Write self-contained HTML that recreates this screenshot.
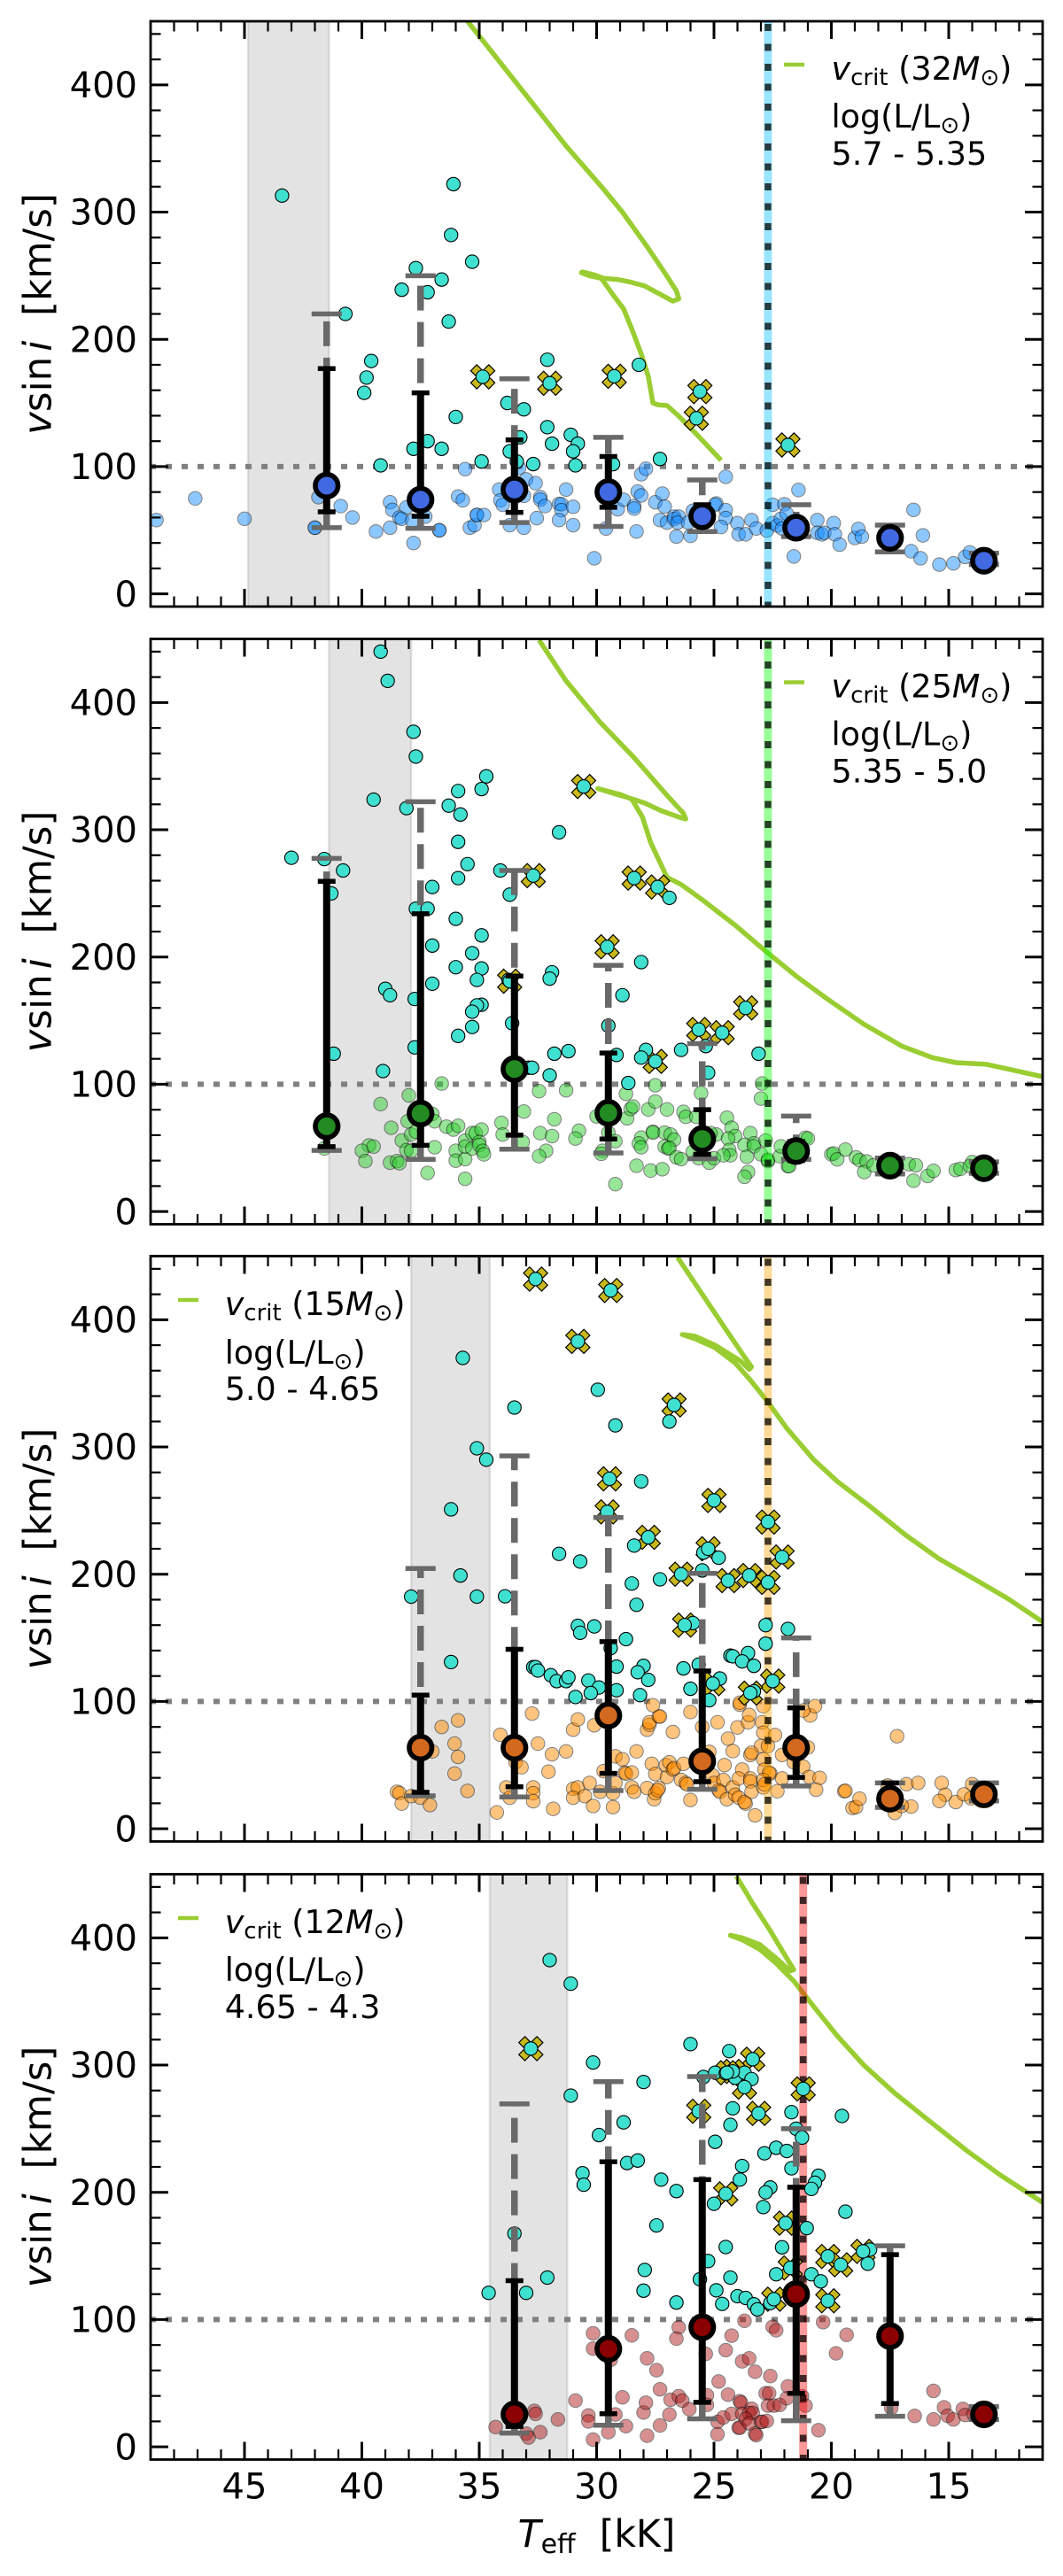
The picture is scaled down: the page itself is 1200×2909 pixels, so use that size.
<!DOCTYPE html>
<html lang="en">
<head>
<meta charset="utf-8">
<title>Projected rotational velocity versus effective temperature</title>
<style>
html,body{margin:0;padding:0;background:#fff;width:1200px;height:2909px;overflow:hidden}
svg{display:block}
text{font-family:"DejaVu Sans",sans-serif;fill:#000}
</style>
</head>
<body>
<svg id="fig" xmlns="http://www.w3.org/2000/svg" width="1200" height="2909" viewBox="0 0 1200 2909">
<rect x="0" y="0" width="1200" height="2909" fill="#fff"/>
<defs id="defs"></defs>
<g id="plots"></g>

<text transform="translate(57.5,354.5) rotate(-90)" text-anchor="middle" font-size="43.5"><tspan font-style="italic">v</tspan>sin<tspan font-style="italic" dx="6">i</tspan><tspan xml:space="preserve">  [km/s]</tspan></text>
<text transform="translate(57.5,1052) rotate(-90)" text-anchor="middle" font-size="43.5"><tspan font-style="italic">v</tspan>sin<tspan font-style="italic" dx="6">i</tspan><tspan xml:space="preserve">  [km/s]</tspan></text>
<text transform="translate(57.5,1749) rotate(-90)" text-anchor="middle" font-size="43.5"><tspan font-style="italic">v</tspan>sin<tspan font-style="italic" dx="6">i</tspan><tspan xml:space="preserve">  [km/s]</tspan></text>
<text transform="translate(57.5,2447) rotate(-90)" text-anchor="middle" font-size="43.5"><tspan font-style="italic">v</tspan>sin<tspan font-style="italic" dx="6">i</tspan><tspan xml:space="preserve">  [km/s]</tspan></text>

<text x="673.5" y="2876" text-anchor="middle" font-size="42.5" xml:space="preserve"><tspan font-style="italic">T</tspan><tspan font-size="30" dy="7">eff</tspan><tspan dy="-7">  [kK]</tspan></text>

<g>
<line x1="885" x2="908" y1="73" y2="73" stroke="#9acd32" stroke-width="4.5"/>
<text x="938.5" y="90" font-size="36.5" xml:space="preserve"><tspan font-style="italic">v</tspan><tspan font-size="26" dy="6">crit</tspan><tspan dy="-6"> (32</tspan><tspan font-style="italic">M</tspan><tspan font-size="26" dy="6">⊙</tspan><tspan dy="-6">)</tspan></text>
<text x="938.5" y="144" font-size="36.5">log(L/L<tspan font-size="26" dy="6">⊙</tspan><tspan dy="-6">)</tspan></text>
<text x="938.5" y="186" font-size="36.5">5.7 - 5.35</text>
</g>
<g>
<line x1="885" x2="908" y1="770.5" y2="770.5" stroke="#9acd32" stroke-width="4.5"/>
<text x="938.5" y="787.5" font-size="36.5" xml:space="preserve"><tspan font-style="italic">v</tspan><tspan font-size="26" dy="6">crit</tspan><tspan dy="-6"> (25</tspan><tspan font-style="italic">M</tspan><tspan font-size="26" dy="6">⊙</tspan><tspan dy="-6">)</tspan></text>
<text x="938.5" y="841.5" font-size="36.5">log(L/L<tspan font-size="26" dy="6">⊙</tspan><tspan dy="-6">)</tspan></text>
<text x="938.5" y="883.5" font-size="36.5">5.35 - 5.0</text>
</g>
<g>
<line x1="201" x2="224" y1="1468" y2="1468" stroke="#9acd32" stroke-width="4.5"/>
<text x="253.7" y="1485" font-size="36.5" xml:space="preserve"><tspan font-style="italic">v</tspan><tspan font-size="26" dy="6">crit</tspan><tspan dy="-6"> (15</tspan><tspan font-style="italic">M</tspan><tspan font-size="26" dy="6">⊙</tspan><tspan dy="-6">)</tspan></text>
<text x="253.7" y="1540" font-size="36.5">log(L/L<tspan font-size="26" dy="6">⊙</tspan><tspan dy="-6">)</tspan></text>
<text x="253.7" y="1581" font-size="36.5">5.0 - 4.65</text>
</g>
<g>
<line x1="201" x2="224" y1="2166" y2="2166" stroke="#9acd32" stroke-width="4.5"/>
<text x="253.7" y="2183" font-size="36.5" xml:space="preserve"><tspan font-style="italic">v</tspan><tspan font-size="26" dy="6">crit</tspan><tspan dy="-6"> (12</tspan><tspan font-style="italic">M</tspan><tspan font-size="26" dy="6">⊙</tspan><tspan dy="-6">)</tspan></text>
<text x="253.7" y="2237" font-size="36.5">log(L/L<tspan font-size="26" dy="6">⊙</tspan><tspan dy="-6">)</tspan></text>
<text x="253.7" y="2279" font-size="36.5">4.65 - 4.3</text>
</g>
</svg>
<script>
// ---------- tick labels ----------
const xTickLabels=[45,40,35,30,25,20,15];
const yTickLabels=[0,100,200,300,400];
const refLevel=[100,100,100,100];
const shadeHot=[44.85,41.4,37.9,34.55];
const shadeCool=[41.4,37.9,34.55,31.25];
const bandTeff=[22.7,22.7,22.7,21.2];

// ---------- panel 1 ----------
const p1FieldT=[35.6,35.9,35.7,36.7,35.4,35.2,35.1,35.1,34.8,34.15,34.1,34,33.7,33.1,33,33.3,33.1,32.6,32.4,32.4,32.2,32.55,31.6,31.5,31.5,31.6,31.3,31,31,30.1,29.6,29.1,28.85,28.4,28.4,28.3,28.25,28.1,28.1,27.9,27.5,27.2,27.1,27.3,27,26.7,26.7,26.5,26.55,26.6,26,26.1,25.9,24.9,24.95,24.5,24.5,24.7,24.5,24,23.95,23.65,23.4,23.2,22.75,22.5,22.5,22.3,22,22.15,21.9,22.1,21.4,21.6,20.6,20.6,20.4,20.3,19.9,19.85,19.65,19,18.85,18.7,48.75,47.1,45,41.85,42,42,40.9,40.4,39.4,38.8,38.7,38.8,38.4,38.3,38.1,37.85,37.8,37.3,36.7,16.5,16.1,16.6,16.2,15.4,14.8,14.3,14.1];
const p1FieldV=[98,76.5,73.5,50,52,54,62,62,62,82,73.5,70,54,52,90,99,77,87,76,74,69,59.5,70.7,70.4,65.8,58,82,68.4,54,28,51.4,66.5,74,69,67,49,80.4,77.4,94,98.3,72,78.8,68.6,58,56,60.7,58.8,60.7,56,45,45.6,56,65.3,71,70,65.8,59.5,52.6,92,55.6,46.8,46.8,58,51.4,49.8,70,55.6,53.7,70.4,59,63,51.4,81.6,29.4,58,48,46.8,48,55.6,46.8,38.7,44,51,45,58,75,59,76,52,52,69,60,49,72,66,52,60,59,68,57.5,40,60.7,50,66,46,33.5,28,23,24,29,32.6];
const p1CyanT=[43.4,40.7,39.6,39.8,39.9,39.2,37.7,38.3,37.2,36.6,36.1,36.2,35.3,36.3,36,37.2,37.8,36.6,34.9,33.8,33.1,33.25,33.7,33.4,32.7,32.1,32.1,31.9,31.1,30.8,31,30.9,29.3,28.2,27.3];
const p1CyanV=[313,220,183,170,158,101,256,239,237,247,322,282,261,214,139,120,114,114,104,150,145,123,112,104,102,184,131,118,125,118,112,101,102,180,106];
const p1BinaryT=[34.85,32,29.25,25.6,25.75,21.85];
const p1BinaryV=[170.6,165.5,171,159,138,117];
const p1BinT=[41.5,37.5,33.5,29.5,25.5,21.5,17.5,13.5];
const p1Median=[85,74,82,80,61,52,44,26];
const p1InnerHi=[177,158,121,108,70,58,48,29];
const p1InnerLo=[64.5,61,64,68,56,47,38,24];
const p1OuterHi=[220,250,169,123,89.5,70,54,32];
const p1OuterLo=[52,51.5,56,53,49,45,33,23];
const p1CritT=[35.5,32.75,31.3,30.5,29.7,28.9,27.8,27.05,26.6,26.5,26.75,27.25,27.95,28.55,29.1,29.7,30.15,30.6,30.65,30.3,29.8,29.3,28.85,28.5,28.1,27.8,27.6,27.4,27,26.55,25.7,24.7];
const p1CritV=[450,386,352,335,318,300,271.6,251,238,232,230,235,242,245,247,248,251,253,252.4,250,248,235,224,208,188.5,171,150,148.6,148,140.6,124.6,105];

// ---------- panel 2 ----------
const p2FieldT=[39.7,40,39.5,39.85,38.8,38.5,38.4,39.2,38,38.75,38.3,38.05,38.1,37.9,37.9,37.7,37,36.9,36.6,37.2,36.9,36.4,36.1,35.9,36,36,35.6,35.6,35.6,35.6,35.3,35.15,34.9,35.3,35,35,34.85,34.8,34.05,34,33.15,33.1,32.45,31.3,32.4,31.9,31.8,32.15,32.45,30.75,30.9,30,29.5,29.2,29.75,29.8,29.2,28.75,28.7,28.55,28.45,27.8,27.5,27.5,27,28.1,28.2,28.1,27.6,27.6,27.1,26.85,26.7,27.1,26.95,26.9,26.6,26.4,28.3,27.7,27.2,26.3,26.2,25.55,25.75,25.9,25.65,25.2,25,24.9,25.15,24.45,24.25,24.1,24.4,24.35,24.3,24.6,23.45,23.7,23.3,23.3,22.8,23.6,23,22.7,22.7,23.55,23.7,22.95,23,22.2,22.15,21.1,21.85,41.6,21,21.8,20,19.9,19.75,19.4,18.95,18.8,18.5,18.6,18.2,16.7,16.4,16.5,15.9,15.65,14.7,14.5,14,14.1,17.7];
const p2FieldV=[51.9,47.7,51,39.6,38.4,39.6,38,84.4,91.3,65.8,55.8,70.9,48.2,47.7,60.5,62.8,76.7,70.9,100.6,30.3,50.5,66.7,64.4,67.4,47.7,40,41.2,25.7,55.8,51,61.6,61.6,64.4,49.5,54.7,52.3,47.7,44.9,69.7,60.5,54.7,78.6,94.6,95.3,61.6,59.3,72.5,47.7,43.5,63.5,57.4,74.8,62,55.3,47.7,45.4,21.5,92.5,73.2,80.6,82.5,80.2,86.4,99.2,80.2,58.1,53.5,50.5,62.8,62,62,60.5,56.5,51,49.5,50,42.6,41.2,36,32.2,33.3,78.3,74.4,93,74.4,47,41.9,38.4,41.9,60.5,61.6,73.7,65.8,59.3,57.4,48.4,44.2,44.2,61.6,52.3,53.5,51.2,55.8,43,44.9,39.6,40.7,31,27.3,100.6,88.8,43.5,51.2,58,35.6,49.6,57.4,35.7,45,45.6,41,48.7,42.5,40.3,39.4,31,36.3,37.2,36.3,24.2,28,32,32.6,33.5,38.8,35.7,37];
const p2CyanT=[39.2,38.9,37.8,37.7,39.5,38.1,43,41.6,40.8,41.3,41.2,39.1,39,38.8,37,37.7,37.2,37,37,37.75,37.75,36.3,35.9,35.8,34.9,34.7,35.9,35.5,35.9,36,34.9,35.3,36,34.9,35.1,34.9,35.1,35.3,35.3,35.9,34.1,33.7,33.75,33.6,32.9,31.6,26.9,28.1,31.9,32,28.9,29.5,25.35,26.4,27.9,28.1,29.15,31.2,31.8,32,32.75,28.65,25.25,23.1];
const p2CyanV=[440,417,377,357.5,323.7,317,278,277,268,250,124,110.4,175,170,255,238,238,209,179,167,129,319,330.5,312,332,342,290.5,273,262,230,217,203,192,191,182,162.5,162,157,145,138,268,249,182,148,113,298,246.5,196,188,183,170,146,130,127,127,121,123,126,124,107,113,101,109,124];
const p2BinaryT=[32.7,33.7,30.55,28.4,27.4,29.55,25.65,24.65,23.65,27.5];
const p2BinaryV=[264,181,334,262,255,208,143,140.5,160,118];
const p2BinT=[41.5,37.5,33.5,29.5,25.5,21.5,17.5,13.5];
const p2Median=[67,77,112,77.5,57,47.5,36,34];
const p2InnerHi=[259.5,234,185,124.6,80,55,40,38];
const p2InnerLo=[51,52,60,57,45,40,32,31];
const p2OuterHi=[277.5,322,268,193.5,132,75,42,39];
const p2OuterLo=[48,41,49,46,41.5,41,29.5,30];
const p2CritT=[32.45,31.3,29.85,28.4,27,26.3,26.2,26.5,27.25,27.95,28.7,29.3,29.95,29,28.5,28.05,27.7,27.3,27,26.4,25.5,24.1,22.8,21.5,20.2,18.6,17,15.7,14.7,13.4,12.25,11];
const p2CritV=[449,417,384.5,356.6,327,313,308.5,310,315,321,325.6,328.7,332.4,327.8,324,310,290,274.4,262.6,257,245,225,204.6,185,167.4,147,130,121,117,115.7,111,106];

// ---------- panel 3 ----------
const p3FieldT=[38.5,38.4,38.3,37.9,37.5,37.1,37,36.6,35.9,36.05,35.9,36.05,35.5,34.25,34.1,33.85,33.7,33.45,33.2,32.7,32.7,32.7,32.5,32.75,31.9,32.05,31.3,31.85,31,30.8,31,30.5,30.3,30.15,31,30.8,30.1,29.85,29.7,29.3,29.2,29.3,29.2,28.9,28.8,28.75,28.5,28.5,28.4,28.3,27.85,27.85,27.75,27.75,27.35,27.3,27.6,26.75,27.65,27.5,27.55,27.5,27.35,27.4,27,27.05,26.9,26.75,26.7,26.3,26.4,26.2,26.15,26,26,25.5,24.85,24.4,24.2,24,23.9,23.9,23.55,23.5,22.9,22.95,22.9,22.4,23,22.7,23.45,23.4,22.9,22.85,22.6,22.65,24.55,23.8,25.2,25.05,25,24.6,24.8,24.75,24.45,24.2,24.1,23.95,23.95,23.65,23.7,23.45,23.45,23.4,23.25,22.9,22.9,22.85,22.3,22.1,22.1,21.6,21.2,20.95,20.5,20.65,21,20.9,20.7,21.2,19.45,19.1,18.95,18.8,17.2,16.8,16.3,16.6,17.3,17.6,17,15.3,15.15,15.4,14.7,14.35,14,14.05,19.4];
const p3FieldV=[29,28,19.8,25.6,24.4,18.6,60.8,80,85.2,66.9,56.4,43.4,29.7,12.8,73.8,32.5,24.4,52.3,48.3,32.5,27.9,21.6,66.9,90.5,58.5,44.8,60.8,15.6,31.4,32.5,24.4,25.6,36,17.9,77.8,85.9,81.3,29,45.3,27.9,36,17,56.9,54.6,44.1,43.4,44.1,32.5,29,60.8,32,77.8,81.7,83.6,88.2,88.2,97,76,51,43,23.2,27.9,32,30.2,40.7,50,52.2,46.5,47.6,51,38.3,36,34.8,22.6,91.7,80,83.6,70.8,61,79.6,97.5,99,83.6,89.4,96.3,83.6,75.5,73.6,65,65,58,59.7,54.6,46.5,43.4,44,50,46.5,60.4,41.8,36,38.3,30.2,29,23.2,32.5,26.7,39.5,24.4,19.8,21,39.5,37.2,29,10.5,32.5,38.3,34.8,29.5,58,39.5,52.3,48.8,40.7,40,30.7,63.9,89,96.3,92.9,29.5,16.3,17,23.6,72.7,35,36,17.4,12.4,34,18,36,26.7,21.8,21,27,35,24,29.8];
const p3CyanT=[35.7,33.5,35.1,34.7,36.2,35.8,37.9,35.1,33.9,36.2,32.7,29.95,29.2,26.9,28.1,28.4,31.6,30.7,25.45,24.8,25.5,28.5,27.3,28.3,25.9,30.8,30.7,30.1,28.75,22.8,21.85,22.8,29.4,24.3,24.2,23.55,23.8,23.3,32.6,32.5,31.95,31.7,31.3,31.2,30.35,29.9,30.25,30.9,29.15,29.15,28,28.25,27.8,28.15,26.3,25.65,26,24.75,25.2,23.3];
const p3CyanV=[370,331,299,290,251,199,182.4,182.4,182.7,131,127,345,317,320,273,222.5,216,210,217,213,203,192.7,196,176,161.6,159.4,154,159,149,160,157,145.4,142,136,135.5,138,131.5,128,127,124.3,120.6,116,116,119,116.5,111,106.6,103.5,127.4,108.8,128,123,117,105,126,129,110,118,101,108];
const p3BinaryT=[32.6,29.4,30.8,26.7,29.45,29.55,25,27.8,22.7,22.1,25.25,26.4,24.4,23.5,22.7,26.25,25.05,22.5,23.45];
const p3BinaryV=[432,423,383,333,275,249,258,229,241,213.5,220,200,195,199,193.6,160,114,116,106.6];
const p3BinT=[37.5,33.5,29.5,25.5,21.5,17.5,13.5];
const p3Median=[63.7,63.7,89,53,63.7,23.6,27];
const p3InnerHi=[105,141,147,124,95,36,33.6];
const p3InnerLo=[28.6,33,43.5,37,40.4,21,22.7];
const p3OuterHi=[204.5,293,244.6,200.7,150,36,36];
const p3OuterLo=[25.8,25,30,31,33.6,16.8,21.8];
const p3CritT=[26.55,25.5,24.5,23.7,23.4,23.5,23.9,24.95,25.8,26.35,25.8,24.95,24.1,23.5,22.75,21.9,20.75,19.75,18.3,16.85,15.4,13.95,12.5,11];
const p3CritV=[449,420,392.5,370.7,363,361,368,380,387,388.4,385,378,366,353.6,336.5,314.8,290,273,252.6,231,212,196.7,181,162.5];

// ---------- panel 4 ----------
const p4FieldT=[34.3,33,32.9,32.4,32.65,32.6,31.65,30.9,30.35,30.35,30.15,30.15,30.15,29.5,29.4,29.2,28.75,28.9,28.5,27.85,27.45,28,27.9,27.3,26.9,27.3,27.85,26.85,26.5,26.35,26.5,26.6,26.05,25.35,25.3,25.3,24.85,24.85,24.6,24.8,24.5,24.25,24.4,24.25,23.95,23.9,23.9,23.85,23.8,23.5,23.25,23.7,23.8,23.4,23.5,23.35,23.65,23.5,23.25,23.2,23,22.95,22.75,22.8,22.65,22.7,22.45,22.2,21.9,21.85,22.6,22.5,22.35,21.25,21.1,20.55,20.35,19.8,19.35,17.45,16.45,15.65,15.65,15.2,15.05,14.8,14.4,14.3,13.95];
const p4FieldV=[15.5,10.4,7.3,11.5,28.2,25.9,21.5,36.3,24.7,20,5.7,89.2,77.2,11.5,68.4,25.4,16.2,38.9,87.6,69.5,60.2,27,34.7,45.2,25.4,16.8,8.7,37,39.8,36.3,93.9,85,29.6,73,40.5,33,19.6,9.9,23.1,51.4,76,87.4,41,25.9,15,15,35.9,34.7,67.2,69.5,59,99,25.9,30,26.6,26.6,22,18.5,10.4,9.2,19.6,19.6,20.3,42.1,42.1,32.4,32.4,32.9,38.2,47.5,55.6,94.3,91.6,39.8,32.4,13.1,98,73.5,88,30.5,24.3,44,21.5,31,24.4,21.5,29.8,25,25.8];
const p4CyanT=[34.6,33.5,33,32,31.1,30.15,31.1,29.9,28.85,28,30.6,30.55,28.7,28.25,27.25,26.6,27.45,32.1,27.95,28,26.6,26,25.45,24.95,24.35,24.5,24.2,24.1,23.7,23.4,24.2,24.3,24.95,23.8,23.9,25,22.85,22.35,21.9,22.6,22.8,22.9,21.7,21.5,21.25,21.7,19.55,20.55,20.7,20.85,21.05,19.4,22.1,24.5,25.25,25.6,24.3,24.9,24.65,24,23.65,23.3,23.15,22.6,22.35,20.85,20.45,18.35,18.45];
const p4CyanV=[121,167.6,121,382.5,364,302,276,245,255,286.7,215,206,223,225,210,201,174,133,139,122.7,113.4,316.5,290.6,294,311,293.5,294,290,294,289,266,253,239.7,220.7,210,191,230.7,235,232.5,203.8,200,188.4,218.9,250,243,263,260,213,207.5,202.7,171.9,184.8,156.8,157,146,131.7,133,123,112.3,118.4,117,112,108,113,135.6,135.6,130,155,143.9];
const p4BinaryT=[32.8,23.35,24.2,24.45,23.7,23.1,25.65,24.5,21.2,21.95,22.45,21.75,20.15,19.6,20.15,18.65];
const p4BinaryV=[313,304.6,295,294,282.7,262,263.7,198.8,281.3,175.8,116,140.6,149.6,143,114.8,153.6];
const p4BinT=[33.5,29.5,25.5,21.5,17.5,13.5];
const p4Median=[25.5,77,94,120,87,25.5];
const p4InnerHi=[130.6,224,210,204,151,31];
const p4InnerLo=[16,26,35,42,34,20];
const p4OuterHi=[269.5,287,291,250,158,31.6];
const p4OuterLo=[10.8,17,22,20.5,24,21.5];
const p4CritT=[24.05,23.35,22.6,21.9,21.6,21.75,22.35,23.05,23.8,24.3,23.8,23.05,22.35,21.6,20.75,19.75,18.6,17.3,15.85,14.25,12.8,11];
const p4CritV=[448.5,427,405.5,384,375,374,384,394.7,400,402,398.5,391,380,366,346,323,299.6,278,256.5,233,213.5,192];

// ---------- axis functions ----------
const plotLeft=170,plotRight=1177,plotHeight=661;
const panelTops=[24,721.5,1418.5,2116.5];
const xMax=49,xMin=11,yMin=-10,yMax=450;
function xScale(t){return plotLeft+(xMax-t)*(plotRight-plotLeft)/(xMax-xMin);}
function yScale(panel,v){return panelTops[panel]+(yMax-v)*plotHeight/(yMax-yMin);}

const NS='http://www.w3.org/2000/svg';
function mk(tag,geom,parent){
  const e=document.createElementNS(NS,tag);
  for(const k in geom){e.setAttribute(k,geom[k]);}
  parent.appendChild(e);
  return e;
}

const fieldSets=[[p1FieldT,p1FieldV],[p2FieldT,p2FieldV],[p3FieldT,p3FieldV],[p4FieldT,p4FieldV]];
const cyanSets=[[p1CyanT,p1CyanV],[p2CyanT,p2CyanV],[p3CyanT,p3CyanV],[p4CyanT,p4CyanV]];
const binarySets=[[p1BinaryT,p1BinaryV],[p2BinaryT,p2BinaryV],[p3BinaryT,p3BinaryV],[p4BinaryT,p4BinaryV]];
const binSets=[
 [p1BinT,p1Median,p1InnerHi,p1InnerLo,p1OuterHi,p1OuterLo],
 [p2BinT,p2Median,p2InnerHi,p2InnerLo,p2OuterHi,p2OuterLo],
 [p3BinT,p3Median,p3InnerHi,p3InnerLo,p3OuterHi,p3OuterLo],
 [p4BinT,p4Median,p4InnerHi,p4InnerLo,p4OuterHi,p4OuterLo]];
const critSets=[[p1CritT,p1CritV],[p2CritT,p2CritV],[p3CritT,p3CritV],[p4CritT,p4CritV]];
const fieldColors=['#1e90ff','#32cd32','#ff8c00','#b22222'];
const medianColors=['#4169e1','#228b22','#d2691e','#8b0000'];
const bandColors=['#00bfff','#00ff00','#ffa500','#ff0000'];

const root=document.getElementById('plots');
const defs=document.getElementById('defs');

for(let p=0;p<4;p++){
  const top=panelTops[p],bottom=top+plotHeight;

  const clip=mk('clipPath',{id:'clip'+p},defs);
  mk('rect',{x:plotLeft,y:top,width:plotRight-plotLeft,height:plotHeight},clip);

  const panel=mk('g',{},root);
  
  

  const area=mk('g',{'clip-path':'url(#clip'+p+')'},panel);
  
  

  // grey shaded temperature band
  const sx1=xScale(shadeHot[p]),sx2=xScale(shadeCool[p]);
  const shade=mk('rect',{x:sx1,y:top,width:sx2-sx1,height:plotHeight,fill:'#808080','fill-opacity':0.22,stroke:'#808080','stroke-opacity':0.22,'stroke-width':2.5},area);
  
  

  // reference line
  const ry=yScale(p,refLevel[p]);
  const ref=mk('line',{x1:plotLeft-1,x2:plotRight,y1:ry,y2:ry,stroke:'#808080','stroke-width':6,'stroke-dasharray':'7 11'},area);
  
  

  // critical velocity track
  const cT=critSets[p][0],cV=critSets[p][1];
  let pts='';
  for(let i=0;i<cT.length;i++){pts+=xScale(cT[i]).toFixed(1)+','+yScale(p,cV[i]).toFixed(1)+' ';}
  const crit=mk('polyline',{points:pts,fill:'none',stroke:'#9acd32','stroke-width':5.5,'stroke-linejoin':'round','stroke-linecap':'butt'},area);
  
  

  // field stars
  const fT=fieldSets[p][0],fV=fieldSets[p][1];
  for(let i=0;i<fT.length;i++){
    const c=mk('circle',{cx:xScale(fT[i]),cy:yScale(p,fV[i]),r:7.7,fill:fieldColors[p],stroke:'#000','stroke-width':1,opacity:0.5},area);
    
    
  }

  // vertical coloured band with dotted overlay
  const bx=xScale(bandTeff[p]);
  const bandLight=mk('line',{x1:bx,x2:bx,y1:top,y2:bottom,stroke:bandColors[p],'stroke-opacity':0.4,'stroke-width':9},area);
  
  
  const bandDots=mk('line',{x1:bx,x2:bx,y1:top+3,y2:bottom,stroke:'#000','stroke-opacity':0.75,'stroke-width':7.5,'stroke-dasharray':'8 14.5'},area);
  
  

  // binary X markers
  const bT=binarySets[p][0],bV=binarySets[p][1];
  const u=6.8;
  const shape=[[-1,-2],[0,-1],[1,-2],[2,-1],[1,0],[2,1],[1,2],[0,1],[-1,2],[-2,1],[-1,0],[-2,-1]];
  for(let i=0;i<bT.length;i++){
    const cx=xScale(bT[i]),cy=yScale(p,bV[i]);
    const poly=shape.map(function(s){return (cx+s[0]*u).toFixed(1)+','+(cy+s[1]*u).toFixed(1);}).join(' ');
    const x=mk('polygon',{points:poly,fill:'#c8b81c',stroke:'#000','stroke-width':1.2},area);
    
    
  }

  // fast rotators
  const cyT=cyanSets[p][0],cyV=cyanSets[p][1];
  for(let i=0;i<cyT.length;i++){
    const c=mk('circle',{cx:xScale(cyT[i]),cy:yScale(p,cyV[i]),r:7.6,fill:'#40e0d0',stroke:'#000','stroke-width':1.1},area);
    
    
  }
  for(let i=0;i<bT.length;i++){
    const c=mk('circle',{cx:xScale(bT[i]),cy:yScale(p,bV[i]),r:7.6,fill:'#40e0d0',stroke:'#000','stroke-width':1.1},area);
    
    
  }

  // binned medians with error bars
  const B=binSets[p];
  for(let i=0;i<B[0].length;i++){
    const bxc=xScale(B[0][i]);
    const oh=yScale(p,B[4][i]),ol=yScale(p,B[5][i]),ih=yScale(p,B[2][i]),il=yScale(p,B[3][i]);
    const g1=mk('line',{x1:bxc,x2:bxc,y1:ol,y2:oh,stroke:'#696969','stroke-width':7.5,'stroke-dasharray':'28 13'},area);
    
    
    const g2=mk('line',{x1:bxc-17,x2:bxc+17,y1:oh,y2:oh,stroke:'#696969','stroke-width':5.5},area);
    
    
    const g3=mk('line',{x1:bxc-17,x2:bxc+17,y1:ol,y2:ol,stroke:'#696969','stroke-width':5.5},area);
    
    
    const k1=mk('line',{x1:bxc,x2:bxc,y1:il,y2:ih,stroke:'#000','stroke-width':8},area);
    
    
    const k2=mk('line',{x1:bxc-10,x2:bxc+10,y1:ih,y2:ih,stroke:'#000','stroke-width':5.5},area);
    
    
    const k3=mk('line',{x1:bxc-10,x2:bxc+10,y1:il,y2:il,stroke:'#000','stroke-width':5.5},area);
    
    
    const m=mk('circle',{cx:bxc,cy:yScale(p,B[1][i]),r:12.8,fill:medianColors[p],stroke:'#000','stroke-width':5.6},area);
    
    
  }

  // ticks: x
  for(let t=xMin+1;t<xMax;t++){
    const major=(t%5===0);
    const len=major?20:11.5,w=major?3:2.2;
    const xt=xScale(t);
    const a=mk('line',{x1:xt,x2:xt,y1:bottom,y2:bottom-len,stroke:'#000','stroke-width':w},panel);
    
    
    const b=mk('line',{x1:xt,x2:xt,y1:top,y2:top+len,stroke:'#000','stroke-width':w},panel);
    
    
  }
  // ticks: y
  for(let v=0;v<yMax;v+=20){
    const major=(v%100===0);
    const len=major?20:11.5,w=major?3:2.2;
    const yt=yScale(p,v);
    const a=mk('line',{x1:plotLeft,x2:plotLeft+len,y1:yt,y2:yt,stroke:'#000','stroke-width':w},panel);
    
    
    const b=mk('line',{x1:plotRight,x2:plotRight-len,y1:yt,y2:yt,stroke:'#000','stroke-width':w},panel);
    
    
  }

  // frame
  const frame=mk('rect',{x:plotLeft,y:top,width:plotRight-plotLeft,height:plotHeight,fill:'none',stroke:'#000','stroke-width':2.8},panel);
  
  

  // y tick labels
  for(let i=0;i<yTickLabels.length;i++){
    const lab=mk('text',{x:155,y:yScale(p,yTickLabels[i])+14.2,'text-anchor':'end','font-size':40},panel);
    lab.textContent=String(yTickLabels[i]);
    
    
  }
  // x tick labels on bottom panel only
  if(p===3){
    for(let i=0;i<xTickLabels.length;i++){
      const lab=mk('text',{x:xScale(xTickLabels[i]),y:bottom+44,'text-anchor':'middle','font-size':40},panel);
      lab.textContent=String(xTickLabels[i]);
      
      
    }
  }
}
</script>
</body>
</html>
